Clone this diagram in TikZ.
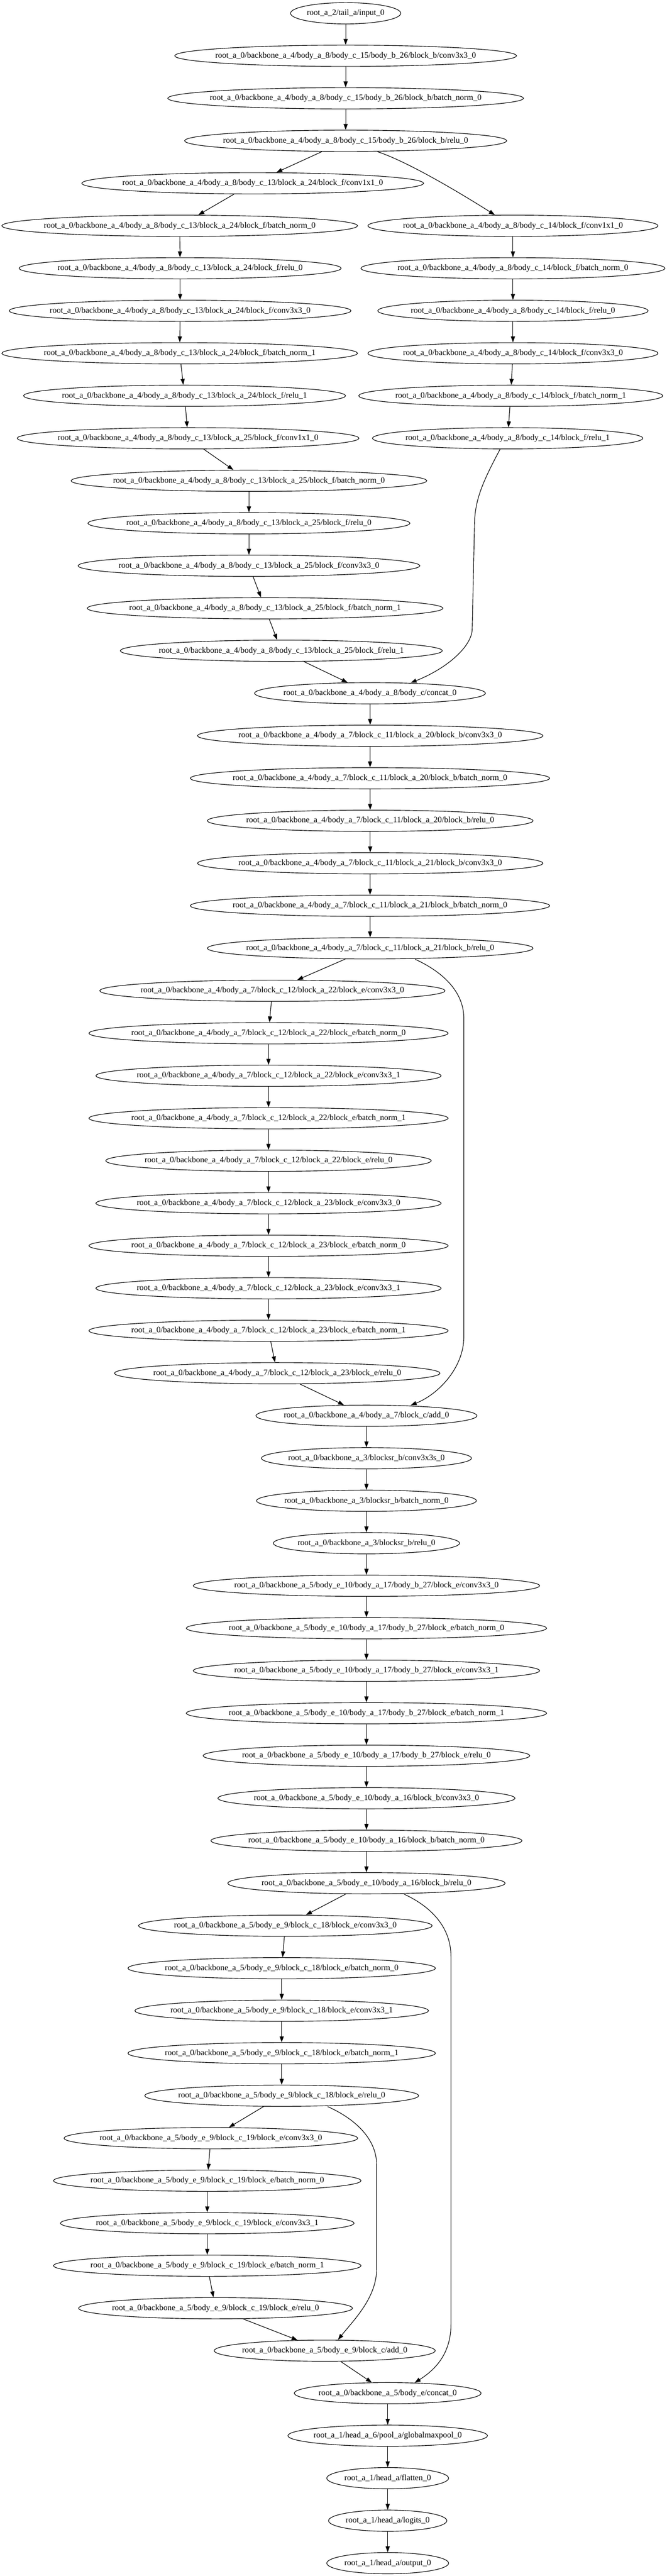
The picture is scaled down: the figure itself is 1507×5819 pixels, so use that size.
\documentclass[tikz,border=0pt]{standalone}
\usepackage{fontspec}
\setmainfont{Liberation Serif}
\usetikzlibrary{arrows.meta,calc,shapes.geometric}
\newcommand\gvfont{\fontsize{14}{16.8}\selectfont}
\tikzset{
  gvnode/.style={draw, ellipse, line width=1pt, minimum height=36pt, inner sep=0pt},
  gvtext/.style={font=\gvfont, inner sep=0pt, anchor=center},
  gvedge/.style={draw, line width=1pt, -{Triangle[length=10pt,width=7pt]}}
}
\newcommand\gv[4]{%
  \node[gvtext] (#1t) at (#2,{30+96*#3}) {#4};
  \path let \p1=($(#1t.east)-(#1t.west)$) in
    node[gvnode, minimum width={1.265*\x1+20pt}] (#1) at (#1t.center) {};
}
\begin{document}
\begin{tikzpicture}[x=0.75pt,y=-0.75pt]
\fill[white] (0,0) rectangle (1507,5819);
\useasboundingbox (0,0) rectangle (1507,5819);
% ---- top trunk
\gv{r0}{781}{0}{root\_a\_2/tail\_a/input\_0}
\gv{r1}{781}{1}{root\_a\_0/backbone\_a\_4/body\_a\_8/body\_c\_15/body\_b\_26/block\_b/conv3x3\_0}
\gv{r2}{781}{2}{root\_a\_0/backbone\_a\_4/body\_a\_8/body\_c\_15/body\_b\_26/block\_b/batch\_norm\_0}
\gv{r3}{781}{3}{root\_a\_0/backbone\_a\_4/body\_a\_8/body\_c\_15/body\_b\_26/block\_b/relu\_0}
% ---- left branch body_c_13
\gv{a4}{571}{4}{root\_a\_0/backbone\_a\_4/body\_a\_8/body\_c\_13/block\_a\_24/block\_f/conv1x1\_0}
\gv{a5}{406}{5}{root\_a\_0/backbone\_a\_4/body\_a\_8/body\_c\_13/block\_a\_24/block\_f/batch\_norm\_0}
\gv{a6}{407}{6}{root\_a\_0/backbone\_a\_4/body\_a\_8/body\_c\_13/block\_a\_24/block\_f/relu\_0}
\gv{a7}{407}{7}{root\_a\_0/backbone\_a\_4/body\_a\_8/body\_c\_13/block\_a\_24/block\_f/conv3x3\_0}
\gv{a8}{406}{8}{root\_a\_0/backbone\_a\_4/body\_a\_8/body\_c\_13/block\_a\_24/block\_f/batch\_norm\_1}
\gv{a9}{417}{9}{root\_a\_0/backbone\_a\_4/body\_a\_8/body\_c\_13/block\_a\_24/block\_f/relu\_1}
\gv{a10}{425}{10}{root\_a\_0/backbone\_a\_4/body\_a\_8/body\_c\_13/block\_a\_25/block\_f/conv1x1\_0}
\gv{a11}{562.5}{11}{root\_a\_0/backbone\_a\_4/body\_a\_8/body\_c\_13/block\_a\_25/block\_f/batch\_norm\_0}
\gv{a12}{562.5}{12}{root\_a\_0/backbone\_a\_4/body\_a\_8/body\_c\_13/block\_a\_25/block\_f/relu\_0}
\gv{a13}{562.5}{13}{root\_a\_0/backbone\_a\_4/body\_a\_8/body\_c\_13/block\_a\_25/block\_f/conv3x3\_0}
\gv{a14}{599}{14}{root\_a\_0/backbone\_a\_4/body\_a\_8/body\_c\_13/block\_a\_25/block\_f/batch\_norm\_1}
\gv{a15}{635.6}{15}{root\_a\_0/backbone\_a\_4/body\_a\_8/body\_c\_13/block\_a\_25/block\_f/relu\_1}
% ---- right branch body_c_14
\gv{b5}{1159}{5}{root\_a\_0/backbone\_a\_4/body\_a\_8/body\_c\_14/block\_f/conv1x1\_0}
\gv{b6}{1159}{6}{root\_a\_0/backbone\_a\_4/body\_a\_8/body\_c\_14/block\_f/batch\_norm\_0}
\gv{b7}{1159}{7}{root\_a\_0/backbone\_a\_4/body\_a\_8/body\_c\_14/block\_f/relu\_0}
\gv{b8}{1159}{8}{root\_a\_0/backbone\_a\_4/body\_a\_8/body\_c\_14/block\_f/conv3x3\_0}
\gv{b9}{1154}{9}{root\_a\_0/backbone\_a\_4/body\_a\_8/body\_c\_14/block\_f/batch\_norm\_1}
\gv{b10}{1147}{10}{root\_a\_0/backbone\_a\_4/body\_a\_8/body\_c\_14/block\_f/relu\_1}
% ---- body_a_7
\gv{r16}{836}{16}{root\_a\_0/backbone\_a\_4/body\_a\_8/body\_c/concat\_0}
\gv{r17}{836.5}{17}{root\_a\_0/backbone\_a\_4/body\_a\_7/block\_c\_11/block\_a\_20/block\_b/conv3x3\_0}
\gv{r18}{836}{18}{root\_a\_0/backbone\_a\_4/body\_a\_7/block\_c\_11/block\_a\_20/block\_b/batch\_norm\_0}
\gv{r19}{836.5}{19}{root\_a\_0/backbone\_a\_4/body\_a\_7/block\_c\_11/block\_a\_20/block\_b/relu\_0}
\gv{r20}{836.5}{20}{root\_a\_0/backbone\_a\_4/body\_a\_7/block\_c\_11/block\_a\_21/block\_b/conv3x3\_0}
\gv{r21}{836}{21}{root\_a\_0/backbone\_a\_4/body\_a\_7/block\_c\_11/block\_a\_21/block\_b/batch\_norm\_0}
\gv{r22}{836.5}{22}{root\_a\_0/backbone\_a\_4/body\_a\_7/block\_c\_11/block\_a\_21/block\_b/relu\_0}
\gv{c23}{615.4}{23}{root\_a\_0/backbone\_a\_4/body\_a\_7/block\_c\_12/block\_a\_22/block\_e/conv3x3\_0}
\gv{c24}{606.7}{24}{root\_a\_0/backbone\_a\_4/body\_a\_7/block\_c\_12/block\_a\_22/block\_e/batch\_norm\_0}
\gv{c25}{606.7}{25}{root\_a\_0/backbone\_a\_4/body\_a\_7/block\_c\_12/block\_a\_22/block\_e/conv3x3\_1}
\gv{c26}{606.7}{26}{root\_a\_0/backbone\_a\_4/body\_a\_7/block\_c\_12/block\_a\_22/block\_e/batch\_norm\_1}
\gv{c27}{606.7}{27}{root\_a\_0/backbone\_a\_4/body\_a\_7/block\_c\_12/block\_a\_22/block\_e/relu\_0}
\gv{c28}{606.7}{28}{root\_a\_0/backbone\_a\_4/body\_a\_7/block\_c\_12/block\_a\_23/block\_e/conv3x3\_0}
\gv{c29}{606.7}{29}{root\_a\_0/backbone\_a\_4/body\_a\_7/block\_c\_12/block\_a\_23/block\_e/batch\_norm\_0}
\gv{c30}{606.7}{30}{root\_a\_0/backbone\_a\_4/body\_a\_7/block\_c\_12/block\_a\_23/block\_e/conv3x3\_1}
\gv{c31}{606.7}{31}{root\_a\_0/backbone\_a\_4/body\_a\_7/block\_c\_12/block\_a\_23/block\_e/batch\_norm\_1}
\gv{c32}{626.4}{32}{root\_a\_0/backbone\_a\_4/body\_a\_7/block\_c\_12/block\_a\_23/block\_e/relu\_0}
\gv{r33}{828}{33}{root\_a\_0/backbone\_a\_4/body\_a\_7/block\_c/add\_0}
% ---- backbone_a_3 / backbone_a_5
\gv{r34}{828}{34}{root\_a\_0/backbone\_a\_3/blocksr\_b/conv3x3s\_0}
\gv{r35}{828}{35}{root\_a\_0/backbone\_a\_3/blocksr\_b/batch\_norm\_0}
\gv{r36}{828}{36}{root\_a\_0/backbone\_a\_3/blocksr\_b/relu\_0}
\gv{r37}{828}{37}{root\_a\_0/backbone\_a\_5/body\_e\_10/body\_a\_17/body\_b\_27/block\_e/conv3x3\_0}
\gv{r38}{828}{38}{root\_a\_0/backbone\_a\_5/body\_e\_10/body\_a\_17/body\_b\_27/block\_e/batch\_norm\_0}
\gv{r39}{828}{39}{root\_a\_0/backbone\_a\_5/body\_e\_10/body\_a\_17/body\_b\_27/block\_e/conv3x3\_1}
\gv{r40}{828}{40}{root\_a\_0/backbone\_a\_5/body\_e\_10/body\_a\_17/body\_b\_27/block\_e/batch\_norm\_1}
\gv{r41}{828}{41}{root\_a\_0/backbone\_a\_5/body\_e\_10/body\_a\_17/body\_b\_27/block\_e/relu\_0}
\gv{r42}{828}{42}{root\_a\_0/backbone\_a\_5/body\_e\_10/body\_a\_16/block\_b/conv3x3\_0}
\gv{r43}{828}{43}{root\_a\_0/backbone\_a\_5/body\_e\_10/body\_a\_16/block\_b/batch\_norm\_0}
\gv{r44}{828}{44}{root\_a\_0/backbone\_a\_5/body\_e\_10/body\_a\_16/block\_b/relu\_0}
\gv{d45}{644.7}{45}{root\_a\_0/backbone\_a\_5/body\_e\_9/block\_c\_18/block\_e/conv3x3\_0}
\gv{d46}{636.5}{46}{root\_a\_0/backbone\_a\_5/body\_e\_9/block\_c\_18/block\_e/batch\_norm\_0}
\gv{d47}{636.5}{47}{root\_a\_0/backbone\_a\_5/body\_e\_9/block\_c\_18/block\_e/conv3x3\_1}
\gv{d48}{636.5}{48}{root\_a\_0/backbone\_a\_5/body\_e\_9/block\_c\_18/block\_e/batch\_norm\_1}
\gv{d49}{636.5}{49}{root\_a\_0/backbone\_a\_5/body\_e\_9/block\_c\_18/block\_e/relu\_0}
\gv{e50}{476.4}{50}{root\_a\_0/backbone\_a\_5/body\_e\_9/block\_c\_19/block\_e/conv3x3\_0}
\gv{e51}{468.3}{51}{root\_a\_0/backbone\_a\_5/body\_e\_9/block\_c\_19/block\_e/batch\_norm\_0}
\gv{e52}{468.3}{52}{root\_a\_0/backbone\_a\_5/body\_e\_9/block\_c\_19/block\_e/conv3x3\_1}
\gv{e53}{468.3}{53}{root\_a\_0/backbone\_a\_5/body\_e\_9/block\_c\_19/block\_e/batch\_norm\_1}
\gv{e54}{487}{54}{root\_a\_0/backbone\_a\_5/body\_e\_9/block\_c\_19/block\_e/relu\_0}
\gv{r55}{733.7}{55}{root\_a\_0/backbone\_a\_5/body\_e\_9/block\_c/add\_0}
\gv{r56}{876}{56}{root\_a\_0/backbone\_a\_5/body\_e/concat\_0}
\gv{r57}{876}{57}{root\_a\_1/head\_a\_6/pool\_a/globalmaxpool\_0}
\gv{r58}{876}{58}{root\_a\_1/head\_a/flatten\_0}
\gv{r59}{876}{59}{root\_a\_1/head\_a/logits\_0}
\gv{r60}{876}{60}{root\_a\_1/head\_a/output\_0}
% ---- straight edges
\foreach \p/\q in {r0/r1,r1/r2,r2/r3,r3/a4,a4/a5,a5/a6,a6/a7,a7/a8,a8/a9,a9/a10,
  a10/a11,a11/a12,a12/a13,a13/a14,a14/a15,a15/r16,
  b5/b6,b6/b7,b7/b8,b8/b9,b9/b10,
  r16/r17,r17/r18,r18/r19,r19/r20,r20/r21,r21/r22,r22/c23,
  c23/c24,c24/c25,c25/c26,c26/c27,c27/c28,c28/c29,c29/c30,c30/c31,c31/c32,c32/r33,
  r33/r34,r34/r35,r35/r36,r36/r37,r37/r38,r38/r39,r39/r40,r40/r41,r41/r42,r42/r43,r43/r44,
  r44/d45,d45/d46,d46/d47,d47/d48,d48/d49,d49/e50,
  e50/e51,e51/e52,e52/e53,e53/e54,e54/r55,r55/r56,
  r56/r57,r57/r58,r58/r59,r59/r60}
  \draw[gvedge] (\p) -- (\q);
% ---- curved edges
\draw[gvedge] ($(r3.south)+(72,0)$) .. controls (920,365) and (1030,430) .. ($(b5.north)+(-41,0)$);
\draw[gvedge] ($(b10.south)+(-17,0)$) .. controls (1090,1090) and (1072,1130) .. (1072,1190)
  -- (1067,1420) .. controls (1067,1460) and (1010,1510) .. ($(r16.north)+(92,1)$);
\draw[gvedge] ($(r22.south)+(101,0)$) .. controls (1000,2195) and (1048,2240) .. (1048,2300)
  -- (1048,3020) .. controls (1048,3090) and (990,3150) .. ($(r33.north)+(100,1)$);
\draw[gvedge] ($(r44.south)+(85,0)$) .. controls (970,4305) and (1019,4350) .. (1019,4420)
  -- (1019,5250) .. controls (1019,5320) and (980,5355) .. ($(r56.north)+(61,1)$);
\draw[gvedge] ($(d49.south)+(104,0)$) .. controls (800,4785) and (851,4830) .. (851,4890)
  -- (851,5125) .. controls (851,5190) and (800,5240) .. ($(r55.north)+(30,0)$);
\end{tikzpicture}
\end{document}
